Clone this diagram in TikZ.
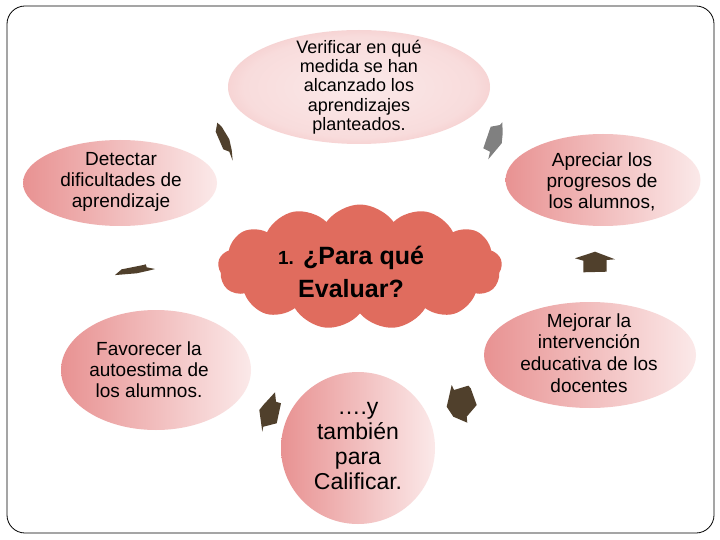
\documentclass[tikz,border=0pt]{standalone}
\usepackage{fontspec}
\setmainfont{Liberation Sans}
\usetikzlibrary{shapes.geometric,shapes.symbols}

\definecolor{epink}{RGB}{232,146,146}
\definecolor{elight}{RGB}{251,233,233}
\definecolor{cloudred}{RGB}{224,108,94}
\definecolor{arrbrown}{RGB}{80,64,44}
\definecolor{arrgrey}{RGB}{128,128,128}
\pgfdeclareradialshading{ellshade}{\pgfpoint{0bp}{0bp}}{color(0bp)=(elight); color(22bp)=(elight!85!epink); color(50bp)=(epink)}

\begin{document}
\begin{tikzpicture}[x=1pt,y=-1pt,
 oval/.style={ellipse, draw=none, left color=epink, right color=elight, inner sep=0pt},
 roval/.style={ellipse, draw=none, shading=ellshade, inner sep=0pt},
 lbl/.style={align=center, text=black, inner sep=0pt},
 arr/.style={fill=arrbrown, draw=none},
 garr/.style={fill=arrgrey, draw=none},
]
\useasboundingbox (0,0) rectangle (720,540);
\fill[white] (0,0) rectangle (720,540);
\node[draw=black, line width=0.8pt, rounded corners=18pt, minimum width=707, minimum height=527, inner sep=0pt] (frame) at (360.5,269.5) {};

% ellipses
\node[roval, minimum width=262, minimum height=114] (top) at (359,87) {};
\node[oval, minimum width=194, minimum height=86] (left) at (120,183) {};
\node[oval, minimum width=195, minimum height=92] (right) at (603,180) {};
\node[oval, minimum width=212, minimum height=106] (mej) at (590,355) {};
\node[oval, minimum width=190, minimum height=120] (fav) at (156,370) {};
\node[oval, minimum width=154, minimum height=152] (bot) at (358,448) {};

% cloud
\node[cloud, cloud puffs=13, cloud puff arc=110, aspect=2.2, fill=cloudred, draw=none, minimum width=284, minimum height=125, inner sep=0pt] (cloud) at (360,267) {};

% texts
\node[lbl, font=\fontsize{18}{19.3}\selectfont] (toptxt) at (359,87) {Verificar en qué\\medida se han\\alcanzado los\\aprendizajes\\planteados.};
\node[lbl, font=\fontsize{19}{21}\selectfont] (lefttxt) at (121,182) {Detectar\\dificultades de\\aprendizaje};
\node[lbl, font=\fontsize{19}{21}\selectfont] (righttxt) at (602,182) {Apreciar los\\progresos de\\los alumnos,};
\node[lbl, font=\fontsize{19}{21.6}\selectfont] (mejtxt) at (589,353) {Mejorar la\\intervención\\educativa de los\\docentes};
\node[lbl, font=\fontsize{19}{21}\selectfont] (favtxt) at (149,370) {Favorecer la\\autoestima de\\los alumnos.};
\node[lbl, font=\fontsize{23}{25}\selectfont] (bottxt) at (358,446) {….y\\también\\para\\Calificar.};
\node[lbl, font=\fontsize{25}{33}\selectfont\bfseries] (q) at (351,272) {{\fontsize{19}{33}\selectfont 1.} ¿Para qué\\Evaluar?};

% block arrows
\fill[arr] (217.3,122.7) -- (221.7,126.7) -- (229.3,139.3) -- (231.7,150) -- (232.7,160.7) -- (229.3,151.7) -- (223.3,149.3) -- (215.7,131.7) -- cycle;
\fill[garr] (490.7,126.7) -- (500,125) -- (502.3,122.3) -- (502.7,133.3) -- (501.7,143.3) -- (493.3,153.3) -- (488.3,159.3) -- (490,151.7) -- (483.3,148.3) -- cycle;
\fill[arr] (115,275) -- (121.7,269.3) -- (130,267.7) -- (143.3,265) -- (145.7,264.3) -- (146.7,267.3) -- (155,269) -- (148.3,270.7) -- (136.7,273.3) -- (116,275) -- cycle;
\fill[arr] (575,258.3) -- (595,251.7) -- (615,259.3) -- (606.7,260) -- (606.7,271.7) -- (583.3,272.3) -- (583.3,260.7) -- cycle;
\fill[arr] (275,392.3) -- (276,401.7) -- (281,403.3) -- (276.7,423.3) -- (263.3,426.7) -- (262.3,431.7) -- (259.3,410) -- (263.3,405) -- cycle;
\fill[arr] (451.7,385) -- (454,390) -- (468.3,385.7) -- (470.7,388.3) -- (476.7,405) -- (466.7,416.7) -- (467.3,422.7) -- (453.3,416.7) -- (446.7,406.7) -- cycle;
\end{tikzpicture}
\end{document}
